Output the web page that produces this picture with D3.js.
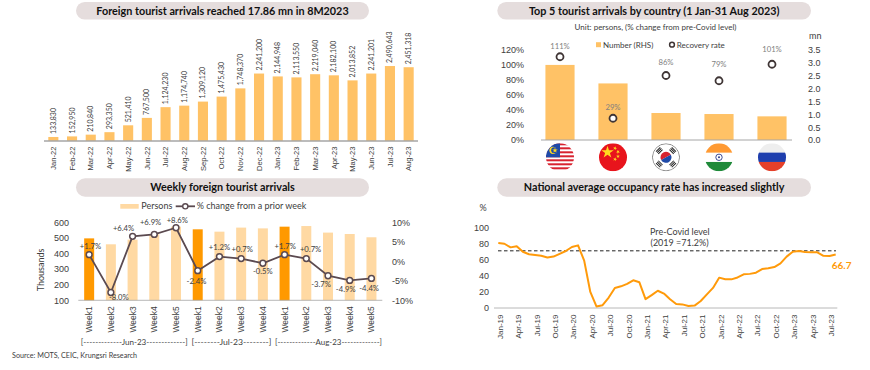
<!DOCTYPE html>
<html>
<head>
<meta charset="utf-8">
<script src="https://cdn.jsdelivr.net/npm/d3@7"></script>
<style>
  html, body { margin: 0; padding: 0; background: #fff; }
  svg { display: block; font-family: Lato, "Open Sans", sans-serif; }
</style>
</head>
<body>
<div id="chart"></div>
<script>
// Monthly arrivals
const arrivalMonths = ['Jan-22','Feb-22','Mar-22','Apr-22','May-22','Jun-22','Jul-22','Aug-22','Sep-22','Oct-22',
  'Nov-22','Dec-22','Jan-23','Feb-23','Mar-23','Apr-23','May-23','Jun-23','Jul-23','Aug-23'];
const arrivalValues = [133830,152950,210840,293350,521410,767500,1124230,1174740,1309120,1475430,
  1748370,2241200,2144948,2113550,2219040,2182100,2013852,2241201,2490643,2451318];

// Top 5 countries
const countries = ['Malaysia','China','South Korea','India','Russia'];
const countryNumbers = [2.92,2.2,1.05,1.01,0.92];
const recoveryRates = [111,29,86,79,101];

// Weekly arrivals
const weekLabels = ['Week1','Week2','Week3','Week4','Week5','Week1','Week2','Week3','Week4','Week1','Week2','Week3','Week4','Week5'];
const weeklyPersons = [497,459,489,523,572,555,540,566,561,572,576,534,525,504];
const weeklyChange = [1.7,-8.0,6.4,6.9,8.6,-2.4,1.2,0.7,-0.5,1.7,0.7,-3.7,-4.9,-4.4];
const firstWeeks = [0,5,9];

// Occupancy rate, Jan-19 to Aug-23
const occupancyRate = [81,80,75.5,77,70,67,66,65,63,64,67.5,71,76,78,59,20,2,3.5,13,25,27,30,34.5,32,11,16,21.5,18,11,5,
  4.5,2.5,3,8.7,17,25,37.8,35.7,35.7,38,42,42.5,44,48.5,49.5,51,55.6,64,70,71,69.7,69.3,69.3,65,64.7,66.7];
const preCovidLevel = 71.2;

const textColor = '#404040';
const barColor = '#ffc266';
const lightBar = '#ffd9a3';
const strongBar = '#ff9900';
const orange = '#ff9a0a';
const pillColor = '#e5dddd';
const lineColor = '#5b4a50';

const svg = d3.select('#chart').append('svg')
  .attr('width', 870)
  .attr('height', 370);

function label(g, x, y, str, size, opts = {}) {
  return g.append('text')
    .attr('x', x)
    .attr('y', y)
    .attr('dy', '.35em')
    .attr('text-anchor', opts.anchor || 'start')
    .attr('font-size', size)
    .attr('font-weight', opts.weight || 'normal')
    .attr('fill', opts.fill || textColor)
    .text(str);
}

function titlePill(x0, x1, y0, y1, str, size) {
  svg.append('rect')
    .attr('x', x0).attr('y', y0)
    .attr('width', x1 - x0).attr('height', y1 - y0)
    .attr('rx', (y1 - y0) / 2)
    .attr('fill', pillColor);
  label(svg, (x0 + x1) / 2, (y0 + y1) / 2, str, size, {anchor: 'middle', weight: 'bold', fill: '#111'});
}

function baseLine(x0, x1, y, width) {
  svg.append('line')
    .attr('x1', x0).attr('x2', x1)
    .attr('y1', y).attr('y2', y)
    .attr('stroke', '#a6a6a6')
    .attr('stroke-width', width);
}

// category axis with labels turned 90 degrees, reading upwards
function rotatedAxis(scale, y, gap, size, values) {
  const axis = d3.axisBottom(scale).tickSize(0);
  if (values) axis.tickValues(values);
  const g = svg.append('g').attr('transform', `translate(0, ${y})`).call(axis);
  g.select('.domain').remove();
  g.selectAll('text')
    .attr('transform', 'rotate(-90)')
    .attr('text-anchor', 'end')
    .attr('x', -gap)
    .attr('y', 0)
    .attr('dy', '.35em')
    .attr('font-size', size)
    .attr('font-family', 'inherit')
    .attr('fill', textColor);
  return g;
}

function valueAxis(scale, x, size, values, format, right) {
  const axis = (right ? d3.axisRight(scale) : d3.axisLeft(scale))
    .tickValues(values).tickSize(0).tickPadding(0).tickFormat(format);
  const g = svg.append('g').attr('transform', `translate(${x}, 0)`).call(axis);
  g.select('.domain').remove();
  g.selectAll('text')
    .attr('font-size', size)
    .attr('font-family', 'inherit')
    .attr('fill', textColor);
  return g;
}

/* ---------- Foreign tourist arrivals ---------- */
function drawArrivals() {
  titlePill(76, 369, 2, 19.5, 'Foreign tourist arrivals reached 17.86 mn in 8M2023', 10.8);

  const x = d3.scaleBand().domain(d3.range(arrivalMonths.length)).range([44, 418]).paddingInner(0.46).paddingOuter(0.23);
  const y = d3.scaleLinear().domain([0, 3000000]).range([141, 50.7]);

  svg.append('g').selectAll('rect')
    .data(arrivalValues)
    .join('rect')
      .attr('x', (d, i) => x(i))
      .attr('y', d => y(d))
      .attr('width', x.bandwidth())
      .attr('height', d => y(0) - y(d))
      .attr('fill', barColor);

  baseLine(44, 418, 141, 1.5);

  svg.append('g').selectAll('text')
    .data(arrivalValues)
    .join('text')
      .attr('transform', (d, i) => `translate(${x(i) + x.bandwidth() / 2}, ${y(d) - 3}) rotate(-90)`)
      .attr('dy', '.35em')
      .attr('font-size', 7)
      .attr('fill', textColor)
      .text(d => d3.format(',')(d));

  const names = d3.scaleBand().domain(arrivalMonths).range([44, 418]);
  rotatedAxis(names, 141, 5.5, 7.6);
}

/* ---------- Top 5 countries ---------- */
function flag(name, cx, cy, r) {
  const id = 'clip-' + name.replace(' ', '');
  const g = svg.append('g').attr('transform', `translate(${cx}, ${cy})`);
  g.append('clipPath').attr('id', id).append('circle').attr('r', r);
  const f = g.append('g').attr('clip-path', `url(#${id})`);
  const band = (y0, y1, fill) => f.append('rect').attr('x', -r).attr('y', y0).attr('width', 2 * r).attr('height', y1 - y0).attr('fill', fill);
  const star = (x, y, size, rot = 0) => f.append('path')
    .attr('d', d3.symbol(d3.symbolStar).size(size)())
    .attr('transform', `translate(${x}, ${y}) rotate(${rot})`)
    .attr('fill', '#ffd91f');

  if (name === 'Malaysia') {
    band(-r, r, '#fff');
    d3.range(7).forEach(i => band(-r + i * 2 * r / 7, -r + (i + 0.5) * 2 * r / 7, '#d8232f'));
    f.append('rect').attr('x', -r).attr('y', -r).attr('width', r).attr('height', r).attr('fill', '#1f4aa8');
    f.append('circle').attr('cx', -r / 2).attr('cy', -r / 2).attr('r', 3.6).attr('fill', '#ffd91f');
    f.append('circle').attr('cx', -r / 2 + 1.2).attr('cy', -r / 2).attr('r', 3).attr('fill', '#1f4aa8');
    star(-r / 2 + 2, -r / 2, 9);
  } else if (name === 'China') {
    band(-r, r, '#e8141c');
    star(-5.5, -5, 48);
    star(2, -9, 5, 20);
    star(5, -5.5, 5, 40);
    star(5, -1, 5);
    star(2, 2, 5, 20);
  } else if (name === 'South Korea') {
    band(-r, r, '#fff');
    f.append('circle').attr('r', r - 0.4).attr('fill', 'none').attr('stroke', '#555').attr('stroke-width', 0.7);
    f.append('path').attr('d', d3.arc()({innerRadius: 0, outerRadius: 5.5, startAngle: -Math.PI / 2 - 0.5, endAngle: Math.PI / 2 - 0.5})).attr('fill', '#d8232f');
    f.append('path').attr('d', d3.arc()({innerRadius: 0, outerRadius: 5.5, startAngle: Math.PI / 2 - 0.5, endAngle: Math.PI * 1.5 - 0.5})).attr('fill', '#1f4aa8');
    [45, 135, 225, 315].forEach(a => {
      const t = f.append('g').attr('transform', `rotate(${a}) translate(0, -9.5)`);
      [-1.6, 0, 1.6].forEach(o => t.append('rect').attr('x', -3).attr('y', o - 0.5).attr('width', 6).attr('height', 1).attr('fill', '#222'));
    });
  } else if (name === 'India') {
    band(-r, r, '#fff');
    band(-r, -r / 3, '#ff9a33');
    band(r / 3, r, '#1f8a3a');
    f.append('circle').attr('r', 3.2).attr('fill', 'none').attr('stroke', '#2b3a8c').attr('stroke-width', 0.9);
    f.append('circle').attr('r', 1).attr('fill', '#2b3a8c');
  } else {
    band(-r, r, '#eeeeee');
    band(-r / 3, r / 3, '#1f3fae');
    band(r / 3, r, '#e5402a');
  }
}

function drawCountries() {
  titlePill(497.3, 811, 2, 19.5, 'Top 5 tourist arrivals by country (1 Jan-31 Aug 2023)', 10.8);
  label(svg, 655.5, 27, 'Unit: persons, (% change from pre-Covid level)', 8, {anchor: 'middle'});

  const x = d3.scaleBand().domain(countries).range([533.5, 798.5]).paddingInner(0.45).paddingOuter(0.225);
  const yLeft = d3.scaleLinear().domain([0, 120]).range([140, 50]);
  const yRight = d3.scaleLinear().domain([0, 3.5]).range([140, 50]);
  const mid = d => x(d) + x.bandwidth() / 2;

  svg.append('g').selectAll('rect')
    .data(countries)
    .join('rect')
      .attr('x', d => x(d))
      .attr('y', (d, i) => yRight(countryNumbers[i]))
      .attr('width', x.bandwidth())
      .attr('height', (d, i) => yRight(0) - yRight(countryNumbers[i]))
      .attr('fill', barColor);

  baseLine(541, 792, 140, 1);

  valueAxis(yLeft, 524, 9, d3.range(0, 121, 20), d => d + '%');
  valueAxis(yRight, 808, 9, d3.range(0, 3.6, 0.5), d3.format('.1f'), true);
  label(svg, 809, 35.7, 'mn', 9);

  svg.append('g').selectAll('circle')
    .data(countries)
    .join('circle')
      .attr('cx', mid)
      .attr('cy', (d, i) => yLeft(recoveryRates[i]))
      .attr('r', 3.5)
      .attr('fill', '#fff')
      .attr('stroke', '#3f3535')
      .attr('stroke-width', 1.8);

  // label gap above each marker, set by eye
  const rateGaps = [10.7, 10.7, 13, 16.7, 14.7];
  countries.forEach((c, i) => {
    label(svg, mid(c), yLeft(recoveryRates[i]) - rateGaps[i], recoveryRates[i] + '%', 7.7, {anchor: 'middle', fill: '#7f7f7f'});
    flag(c, mid(c), 157.3, 14);
  });

  // legend
  svg.append('rect').attr('x', 596).attr('y', 42.2).attr('width', 5).attr('height', 5).attr('fill', barColor);
  label(svg, 603, 44.7, 'Number (RHS)', 8);
  svg.append('circle').attr('cx', 672).attr('cy', 44.7).attr('r', 2.4).attr('fill', '#fff').attr('stroke', '#3f3535').attr('stroke-width', 1.5);
  label(svg, 676.7, 44.7, 'Recovery rate', 8);
}

/* ---------- Weekly arrivals ---------- */
function drawWeekly() {
  titlePill(76, 369, 178.3, 196.7, 'Weekly foreign tourist arrivals', 10.8);

  const x = d3.scaleBand().domain(d3.range(weekLabels.length)).range([78.3, 382.3]).paddingInner(0.54).paddingOuter(0.27);
  const yLeft = d3.scaleLinear().domain([100, 600]).range([300.3, 222.3]);
  const yRight = d3.scaleLinear().domain([-10, 10]).range([300.3, 222.3]);
  const mid = i => x(i) + x.bandwidth() / 2;

  svg.append('g').selectAll('rect')
    .data(weeklyPersons)
    .join('rect')
      .attr('x', (d, i) => x(i))
      .attr('y', d => yLeft(d))
      .attr('width', x.bandwidth())
      .attr('height', d => yLeft(100) - yLeft(d))
      .attr('fill', (d, i) => firstWeeks.includes(i) ? strongBar : lightBar);

  baseLine(78.3, 382.3, 300.3, 0.8);

  valueAxis(yLeft, 69, 9, d3.range(100, 601, 100), d => d);
  valueAxis(yRight, 392, 9, d3.range(-10, 11, 5), d => d + '%', true);

  svg.append('text')
    .attr('transform', 'translate(41, 270) rotate(-90)')
    .attr('dy', '.35em')
    .attr('text-anchor', 'middle')
    .attr('font-size', 9)
    .attr('fill', textColor)
    .text('Thousands');

  const line = d3.line().x((d, i) => mid(i)).y(d => yRight(d));
  svg.append('path')
    .attr('d', line(weeklyChange))
    .attr('fill', 'none')
    .attr('stroke', lineColor)
    .attr('stroke-width', 1.8);

  svg.append('g').selectAll('circle')
    .data(weeklyChange)
    .join('circle')
      .attr('cx', (d, i) => mid(i))
      .attr('cy', d => yRight(d))
      .attr('r', 2.9)
      .attr('fill', '#fff')
      .attr('stroke', lineColor)
      .attr('stroke-width', 1.5);

  // data label offsets from each marker, set by eye
  const dxs = [1.3, 8, -9, -3.7, 1.3, -1.3, 0, 1, 0, 0.7, 4.3, -7, -4, -2.3];
  const dys = [-8.7, 5.3, -8, -11.7, -7.7, 11, -9.7, -9, 8.3, -8, -9, 8.7, 8.7, 10.3];
  weeklyChange.forEach((d, i) => {
    const str = (d > 0 ? '+' : '') + d.toFixed(1) + '%';
    label(svg, mid(i) + dxs[i], yRight(d) + dys[i], str, 7.7, {anchor: 'middle'});
  });

  const names = d3.scaleBand().domain(d3.range(weekLabels.length)).range([78.3, 382.3]);
  const g = rotatedAxis(names, 300.3, 6, 8.5);
  g.selectAll('text').text(d => weekLabels[d]);

  // month brackets below the weeks
  const spans = [
    ['[-------------Jun-23-------------]', 80.7, 107],
    ['[--------Jul-23--------]', 191.5, 80],
    ['[-------------Aug-23-------------]', 275, 107]
  ];
  spans.forEach(s => {
    label(svg, s[1], 342.3, s[0], 8)
      .attr('textLength', s[2])
      .attr('lengthAdjust', 'spacingAndGlyphs');
  });

  // legend
  svg.append('rect').attr('x', 120.3).attr('y', 204).attr('width', 18.4).attr('height', 4.7).attr('fill', lightBar);
  label(svg, 141.3, 206.3, 'Persons', 9);
  svg.append('line').attr('x1', 175.7).attr('x2', 195).attr('y1', 206.3).attr('y2', 206.3).attr('stroke', lineColor).attr('stroke-width', 1.8);
  svg.append('circle').attr('cx', 185.3).attr('cy', 206.3).attr('r', 2.6).attr('fill', '#fff').attr('stroke', lineColor).attr('stroke-width', 1.4);
  label(svg, 196.7, 206.3, '% change from a prior week', 9);
}

/* ---------- Occupancy ---------- */
function drawOccupancy() {
  titlePill(497.3, 811, 178.3, 196.7, 'National average occupancy rate has increased slightly', 10.8);

  const years = [19, 20, 21, 22, 23];
  const monthNames = ['Jan','Feb','Mar','Apr','May','Jun','Jul','Aug','Sep','Oct','Nov','Dec'];
  const months = years.flatMap(y => monthNames.map(m => `${m}-${y}`)).slice(0, occupancyRate.length);

  const x = d3.scalePoint().domain(months).range([498.3, 835.7]);
  const y = d3.scaleLinear().domain([0, 100]).range([308, 227.7]);

  baseLine(494, 837.3, 308, 0.8);
  valueAxis(y, 489, 9, d3.range(0, 101, 20), d => d);
  label(svg, 483, 207.7, '%', 9, {anchor: 'middle'});

  const g = rotatedAxis(x, 308, 6.5, 8, months.filter((d, i) => i % 3 === 0));
  g.selectAll('text').attr('dy', '.5em');

  svg.append('line')
    .attr('x1', 498).attr('x2', 836)
    .attr('y1', y(preCovidLevel)).attr('y2', y(preCovidLevel))
    .attr('stroke', '#222')
    .attr('stroke-width', 1)
    .attr('stroke-dasharray', '3.5 2.5');

  const line = d3.line().x((d, i) => x(months[i])).y(d => y(d));
  svg.append('path')
    .attr('d', line(occupancyRate))
    .attr('fill', 'none')
    .attr('stroke', orange)
    .attr('stroke-width', 2)
    .attr('stroke-linejoin', 'round');

  label(svg, 650, 231.7, 'Pre-Covid level', 9);
  label(svg, 650.5, 243, '(2019 =71.2%)', 9);
  label(svg, 831.7, 265, '66.7', 10, {weight: 'bold', fill: orange});
}

drawArrivals();
drawCountries();
drawWeekly();
drawOccupancy();

label(svg, 12, 355.3, 'Source: MOTS, CEIC, Krungsri Research', 7.2);
</script>
</body>
</html>
